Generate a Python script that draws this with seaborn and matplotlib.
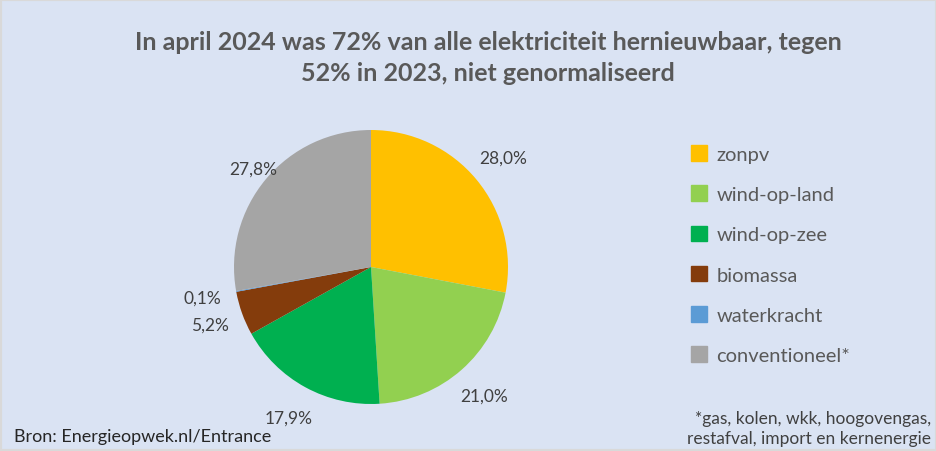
import matplotlib.pyplot as plt
import matplotlib.patches as mpatches
import seaborn as sns

categories = ["zonpv", "wind-op-land", "wind-op-zee", "biomassa", "waterkracht", "conventioneel*"]
shares = [28.0, 21.0, 17.9, 5.2, 0.1, 27.8]
colors = ["#FFC000", "#92D050", "#00B050", "#843C0C", "#5B9BD5", "#A5A5A5"]

title = "In april 2024 was 72% van alle elektriciteit hernieuwbaar, tegen\n52% in 2023, niet genormaliseerd"
source = "Bron: Energieopwek.nl/Entrance"
footnote = "*gas, kolen, wkk, hoogovengas,\nrestafval, import en kernenergie"

BG = "#DAE3F3"
TEXT = "#595959"

sns.set_theme(style="white")
plt.rcParams["font.family"] = ["Lato", "DejaVu Sans"]

fig = plt.figure(figsize=(9.37, 4.52), dpi=100, facecolor=BG)
fig.patches.append(mpatches.Rectangle((0, 0), 1, 1, transform=fig.transFigure,
                                      fill=False, edgecolor="#D9D9D9", linewidth=3))

cx, cy, r = 371, 268, 137
ax = fig.add_axes([(cx - r) / 937, (452 - cy - r) / 452, 2 * r / 937, 2 * r / 452])
ax.set_facecolor(BG)
palette = sns.color_palette(colors)


def fmt(p):
    return f"{p:.1f}".replace(".", ",") + "%"


wedges, texts, autotexts = ax.pie(shares, colors=palette, startangle=90, counterclock=False,
                                  autopct=fmt, pctdistance=1.25, radius=1,
                                  wedgeprops=dict(linewidth=0),
                                  textprops=dict(color="#404040", fontsize=12.5))
# the grey label sits a little closer to the pie in the original
x, y = autotexts[5].get_position()
autotexts[5].set_position((x * 1.12 / 1.25, y * 1.12 / 1.25))
ax.set_xlim(-1, 1)
ax.set_ylim(-1, 1)
ax.set_aspect("equal")
ax.axis("off")

fig.text(0.521, 1 - 58 / 452, title, ha="center", va="center", fontsize=18,
         fontweight="bold", color=TEXT, linespacing=1.4)

handles = [mpatches.Patch(color=c, label=l) for c, l in zip(colors, categories)]
fig.legend(handles=handles, loc="upper left", bbox_to_anchor=(673 / 937, 1 - 128 / 452),
           frameon=False, fontsize=14.5, labelcolor=TEXT, handlelength=0.8, handleheight=0.8,
           handletextpad=0.45, labelspacing=1.12)

fig.text(14 / 937, 1 - 437 / 452, source, ha="left", va="center", fontsize=13, color="#262626")
fig.text(931 / 937, 1 - 429 / 452, footnote, ha="right", va="center", fontsize=12.5,
         color="#404040", linespacing=1.35)

fig.savefig("out.png", dpi=100, facecolor=BG)
